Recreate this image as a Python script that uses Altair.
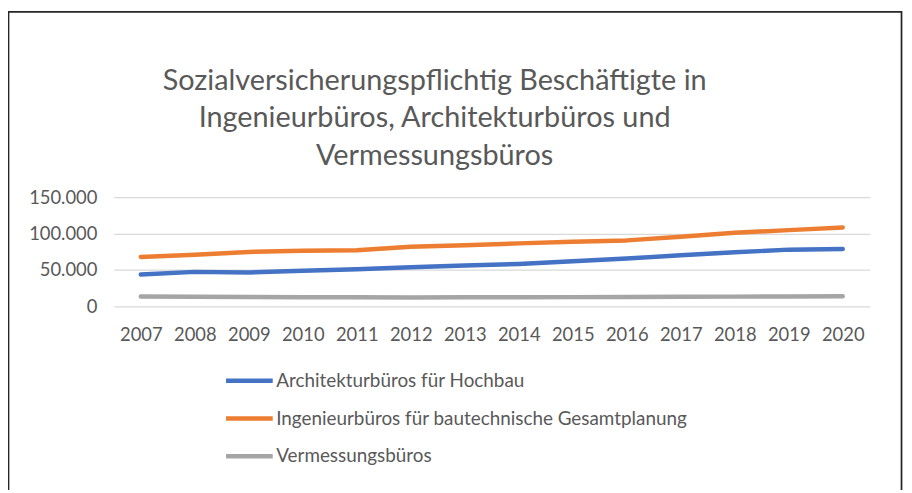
import altair as alt
import pandas as pd

years = [str(y) for y in range(2007, 2021)]
series_names = [
    "Architekturbüros für Hochbau",
    "Ingenieurbüros für bautechnische Gesamtplanung",
    "Vermessungsbüros",
]
architektur = [43600, 47300, 46400, 48700, 51000, 53700, 55900, 58200, 61900, 65500, 70000, 74100, 77800, 78700]
ingenieur = [67800, 70900, 74600, 76400, 76900, 81800, 83700, 86400, 88700, 90500, 95500, 101000, 104600, 108200]
vermessung = [13500, 13200, 12800, 12500, 12300, 12200, 12300, 12400, 12600, 12800, 13000, 13300, 13600, 13700]
colors = ["#4472C4", "#ED7D31", "#A5A5A5"]
title_lines = [
    "Sozialversicherungspflichtig Beschäftigte in",
    "Ingenieurbüros, Architekturbüros und",
    "Vermessungsbüros",
]
y_ticks = [0, 50000, 100000, 150000]

rows = []
for name, vals in zip(series_names, [architektur, ingenieur, vermessung]):
    for yr, v in zip(years, vals):
        rows.append({"Jahr": yr, "Serie": name, "Wert": v})
df = pd.DataFrame(rows)

W, H = 761, 110
PL, PT = 106.5, 188.7
TOTAL_W, TOTAL_H = 902, 482

lines = alt.Chart(df).mark_line(strokeWidth=4.5, strokeCap="round", strokeJoin="round").encode(
    x=alt.X("Jahr:O", sort=years, scale=alt.Scale(type="point", padding=0.5),
            axis=alt.Axis(title=None, labelAngle=0, ticks=False, domain=False, grid=False,
                          labelPadding=19, labelFontSize=18.5, labelColor="#595959")),
    y=alt.Y("Wert:Q", scale=alt.Scale(domain=[0, 150000], nice=False),
            axis=alt.Axis(title=None, values=y_ticks, ticks=False, domain=False,
                          labelExpr="replace(format(datum.value, ','), ',', '.')",
                          labelPadding=17, labelFontSize=18.5, labelColor="#595959",
                          gridColor="#D9D9D9", gridWidth=1.2)),
    color=alt.Color("Serie:N", sort=series_names,
                    scale=alt.Scale(domain=series_names, range=colors),
                    legend=alt.Legend(title=None, orient="none", legendX=124, legendY=172.5,
                                      direction="vertical", symbolType="M-2.35,0H2.35",
                                      symbolSize=400, symbolStrokeWidth=4.5,
                                      labelFontSize=19, labelColor="#595959",
                                      labelOffset=14.5, rowPadding=15, padding=0,
                                      labelLimit=600)),
)

border = alt.Chart(alt.Data(values=[{}])).mark_rect(
    fill=None, stroke="#262626", strokeWidth=1.75
).encode(
    x=alt.value(-106), x2=alt.value(793), y=alt.value(-186.4), y2=alt.value(330)
)

title = alt.Chart(alt.Data(values=[{}])).mark_text(
    font="Lato", fontSize=29, color="#595959", align="center", baseline="alphabetic",
    lineHeight=38
).encode(
    x=alt.value(323), y=alt.value(-108.2), text=alt.value(title_lines)
)

chart = alt.layer(border, title, lines).properties(
    width=W, height=H,
    autosize=alt.AutoSizeParams(type="none"),
    padding={"left": PL, "top": PT, "right": TOTAL_W - PL - W, "bottom": TOTAL_H - PT - H},
).configure(font="Lato").configure_view(stroke=None)

chart.save("out.html", embed_options={"renderer": "svg", "actions": False})
